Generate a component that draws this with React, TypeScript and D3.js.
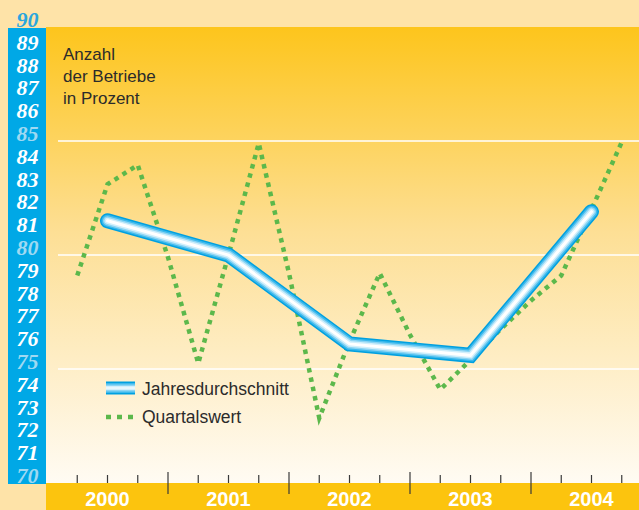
import React, { useRef, useEffect } from 'react';
import * as d3 from 'd3';

const years = [2000, 2001, 2002, 2003, 2004];
const annualValues = [81.5, 80.0, 76.1, 75.6, 81.9];
// quarter ends, 2000 Q1 .. 2004 Q3
const quarterValues = [
  79.1, 83.1, 83.95, 79.9,
  75.25, 80.0, 84.9, 79.2,
  72.85, 76.2, 79.2, 76.5,
  74.1, 75.4, 76.75, 78.0,
  79.1, 82.0, 84.95,
];
const yTicks = d3.range(70, 91);
const paleTicks = [70, 75, 80, 85];
const gridValues = [75, 80, 85];
const titleLines = ['Anzahl', 'der Betriebe', 'in Prozent'];
const legendLabels = ['Jahresdurchschnitt', 'Quartalswert'];

const tubeLayers = [
  { w: 15, c: '#00a0e0' },
  { w: 12, c: '#3cb9ec' },
  { w: 9, c: '#8dd5f4' },
  { w: 6, c: '#d2effb' },
  { w: 3, c: '#ffffff' },
];

const Chart = () => {
  const svgRef = useRef(null);

  useEffect(() => {
    const svg = d3.select(svgRef.current);
    svg.selectAll('*').remove();
    const width = 639;
    const height = 510;
    const plot = { left: 46, right: 639, top: 27, bottom: 483 };

    svg.attr('width', width).attr('height', height);

    const x = d3.scaleLinear().domain([2000, 2005]).range([47, 652]);
    const y = d3.scaleLinear().domain([70, 90]).range([plot.bottom, plot.top]);

    const defs = svg.append('defs');
    const grad = defs.append('linearGradient')
      .attr('id', 'bg').attr('x1', 0).attr('y1', 0).attr('x2', 0).attr('y2', 1);
    grad.append('stop').attr('offset', '0%').attr('stop-color', '#fdc51c');
    grad.append('stop').attr('offset', '45%').attr('stop-color', '#fddf95');
    grad.append('stop').attr('offset', '100%').attr('stop-color', '#fffbf3');

    // page background
    svg.append('rect').attr('width', width).attr('height', height).attr('fill', '#fee3a8');
    svg.append('rect')
      .attr('x', plot.left).attr('y', plot.top)
      .attr('width', plot.right - plot.left).attr('height', plot.bottom - plot.top)
      .attr('fill', 'url(#bg)');

    // bottom band
    svg.append('rect')
      .attr('x', plot.left).attr('y', plot.bottom)
      .attr('width', plot.right - plot.left).attr('height', height - plot.bottom)
      .attr('fill', '#fcc40e');

    // left blue bar
    svg.append('rect')
      .attr('x', 8).attr('y', 28)
      .attr('width', plot.left - 8).attr('height', 456)
      .attr('fill', '#00a8e6');

    // gridlines
    svg.append('g')
      .selectAll('line')
      .data(gridValues)
      .join('line')
      .attr('x1', 58).attr('x2', plot.right)
      .attr('y1', d => y(d)).attr('y2', d => y(d))
      .attr('stroke', '#ffffff').attr('stroke-width', 1.5);

    // y labels
    svg.append('g')
      .selectAll('text')
      .data(yTicks)
      .join('text')
      .attr('x', 27.5)
      .attr('y', d => y(d))
      .attr('text-anchor', 'middle')
      .attr('font-family', '"Liberation Serif", "Times New Roman", serif')
      .attr('font-weight', 'bold')
      .attr('font-style', 'italic')
      .attr('font-size', 22)
      .attr('fill', d => d === 90 ? '#29a6de' : paleTicks.includes(d) ? '#9fd9f2' : '#ffffff')
      .text(d => d);

    // x ticks: quarters small, years long
    const quarterTicks = d3.range(1, 20).map(k => 2000 + k / 4);
    svg.append('g')
      .selectAll('line')
      .data(quarterTicks)
      .join('line')
      .attr('x1', d => x(d)).attr('x2', d => x(d))
      .attr('y1', d => (Number.isInteger(d) ? 472 : 475))
      .attr('y2', d => (Number.isInteger(d) ? 494 : 483))
      .attr('stroke', '#3a3a3a')
      .attr('stroke-width', 1.2);

    // year labels
    svg.append('g')
      .selectAll('text')
      .data(years)
      .join('text')
      .attr('x', d => x(d + 0.5))
      .attr('y', 506)
      .attr('text-anchor', 'middle')
      .attr('font-family', '"Liberation Sans", Arial, sans-serif')
      .attr('font-weight', 'bold')
      .attr('font-size', 20)
      .attr('fill', '#ffffff')
      .text(d => d);

    // title
    svg.append('g')
      .selectAll('text')
      .data(titleLines)
      .join('text')
      .attr('x', 63)
      .attr('y', (d, i) => 60 + i * 22)
      .attr('font-family', '"Liberation Sans", Arial, sans-serif')
      .attr('font-size', 17)
      .attr('fill', '#2b2b2b')
      .text(d => d);

    // quarterly dotted line
    const qLine = d3.line()
      .x((d, i) => x(2000 + (i + 1) / 4))
      .y(d => y(d));
    svg.append('path')
      .datum(quarterValues)
      .attr('d', qLine)
      .attr('fill', 'none')
      .attr('stroke', '#5cb84b')
      .attr('stroke-width', 4.5)
      .attr('stroke-dasharray', '4.5 5');

    // annual tube line
    const aLine = d3.line()
      .x((d, i) => x(years[i] + 0.5))
      .y(d => y(d));
    svg.append('g')
      .selectAll('path')
      .data(tubeLayers)
      .join('path')
      .attr('d', aLine(annualValues))
      .attr('fill', 'none')
      .attr('stroke', d => d.c)
      .attr('stroke-width', d => d.w)
      .attr('stroke-linecap', 'round')
      .attr('stroke-linejoin', 'miter');

    // legend
    const legend = svg.append('g');
    legend.selectAll('path.swatch')
      .data(tubeLayers)
      .join('path')
      .attr('class', 'swatch')
      .attr('d', 'M106,388H135')
      .attr('stroke', d => d.c)
      .attr('stroke-width', d => d.w - 2);
    legend.append('path')
      .attr('d', 'M106,417H134')
      .attr('stroke', '#5cb84b')
      .attr('stroke-width', 4.5)
      .attr('stroke-dasharray', '5 6');
    legend.selectAll('text')
      .data(legendLabels)
      .join('text')
      .attr('x', 142)
      .attr('y', (d, i) => 395 + i * 28)
      .attr('font-family', '"Liberation Sans", Arial, sans-serif')
      .attr('font-size', 17.5)
      .attr('fill', '#2b2b2b')
      .text(d => d);
  }, []);

  return <svg ref={svgRef} style={{ position: 'absolute', left: 0, top: 0 }}></svg>;
};

export default function App() {
  return <Chart />;
}
